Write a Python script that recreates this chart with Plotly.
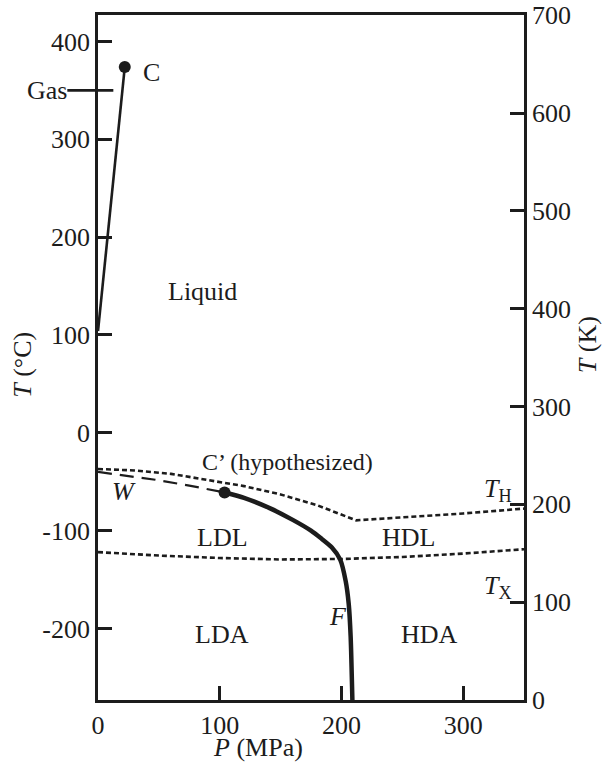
import plotly.graph_objects as go

# ---------------- data ----------------
# Liquid–gas coexistence line, ends at critical point C
lg_P = [0, 22]
lg_T = [104, 374]
C_P, C_T = 22, 374

# Hypothetical liquid–liquid line (solid) from C' to F at 0 K
ll_P = [104, 120, 141, 160, 175, 183, 192, 199, 203.5, 206, 207.6, 209]
ll_T = [-61, -66.5, -77, -89, -100, -107.6, -117, -129.6, -151.6, -175, -209, -273.15]
Cp_P, Cp_T = 104, -61

# Widom line W (dashed)
w_P = [0, 47, 75, 104]
w_T = [-40, -48, -54, -61]

# Homogeneous nucleation temperature T_H (dotted)
th_P = [0, 30, 60, 90, 120, 150, 180, 212, 250, 300, 350]
th_T = [-37, -38.5, -42, -48, -54.5, -63, -74, -89.5, -86.5, -82.5, -77.5]

# Crystallization temperature T_X (dotted)
tx_P = [0, 50, 100, 150, 200, 250, 300, 350]
tx_T = [-122, -125.5, -128, -129.5, -129, -127, -123.5, -119]

GAS_T = 350

x_ticks = [0, 100, 200, 300]
yC_ticks = [-200, -100, 0, 100, 200, 300, 400]
yK_ticks = [0, 100, 200, 300, 400, 500, 600, 700]

P_RANGE = [0, 350]
K_RANGE = [0, 700.2]
C_RANGE = [K_RANGE[0] - 273.15, K_RANGE[1] - 273.15]

# region labels: (text, P, T)
labels = [
    ("Liquid", 86, 144),
    ("LDL", 102, -107),
    ("HDL", 255, -107),
    ("LDA", 102, -206),
    ("HDA", 272, -206),
]
italic_labels = [
    ("<i>W</i>", 21, -60),
    ("<i>F</i>", 197, -188),
    ("<i>T</i><sub>H</sub>", 329, -58),
    ("<i>T</i><sub>X</sub>", 329, -158),
]

FONT = "Liberation Serif"
INK = "#1c1c1c"
FS = 26

fig = go.Figure()

fig.add_trace(go.Scatter(x=th_P, y=th_T, mode="lines",
                         line=dict(color=INK, width=2.6, dash="5px,3px"),
                         showlegend=False, hoverinfo="skip"))
fig.add_trace(go.Scatter(x=tx_P, y=tx_T, mode="lines",
                         line=dict(color=INK, width=2.6, dash="5px,3px"),
                         showlegend=False, hoverinfo="skip"))
fig.add_trace(go.Scatter(x=w_P, y=w_T, mode="lines",
                         line=dict(color=INK, width=2.2, dash="14px,8px"),
                         showlegend=False, hoverinfo="skip"))
fig.add_trace(go.Scatter(x=ll_P, y=ll_T, mode="lines",
                         line=dict(color=INK, width=4.5, shape="spline", smoothing=0.6),
                         showlegend=False, hoverinfo="skip"))
fig.add_trace(go.Scatter(x=lg_P, y=lg_T, mode="lines",
                         line=dict(color=INK, width=2.6),
                         showlegend=False, hoverinfo="skip"))
fig.add_trace(go.Scatter(x=[C_P, Cp_P], y=[C_T, Cp_T], mode="markers",
                         marker=dict(color=INK, size=12),
                         showlegend=False, hoverinfo="skip"))
# empty trace so the Kelvin axis is drawn
fig.add_trace(go.Scatter(x=[None], y=[None], yaxis="y2", showlegend=False, hoverinfo="skip"))

for txt, p, t in labels + italic_labels:
    fig.add_annotation(x=p, y=t, text=txt, showarrow=False,
                       font=dict(family=FONT, size=FS, color=INK))
fig.add_annotation(x=156, y=-30, text="C\u2019 (hypothesized)", showarrow=False,
                   font=dict(family=FONT, size=24, color=INK))
fig.add_annotation(x=C_P + 22, y=C_T - 6, text="C", showarrow=False,
                   font=dict(family=FONT, size=FS, color=INK))

# Gas marker on the left axis
fig.add_shape(type="line", xref="paper", yref="y", x0=-0.072, x1=0.036,
              y0=GAS_T, y1=GAS_T, line=dict(color=INK, width=2.6))
fig.add_annotation(xref="paper", yref="y", x=-0.068, y=GAS_T, text="Gas",
                   xanchor="right", showarrow=False,
                   font=dict(family=FONT, size=FS, color=INK))

# axis titles
fig.add_annotation(xref="paper", yref="paper", x=(258 - 98) / 425, y=-(747 - 700) / 685,
                   text="<i>P</i> (MPa)", showarrow=False, xanchor="center",
                   yanchor="middle", font=dict(family=FONT, size=FS, color=INK))
fig.add_annotation(xref="paper", yref="paper", x=-(98 - 22) / 425, y=(700 - 365) / 685,
                   text="<i>T</i> (\u00b0C)", showarrow=False, textangle=-90,
                   xanchor="center", yanchor="middle",
                   font=dict(family=FONT, size=FS, color=INK))
fig.add_annotation(xref="paper", yref="paper", x=1 + (587 - 524) / 425, y=(700 - 345) / 685,
                   text="<i>T</i> (K)", showarrow=False, textangle=-90,
                   xanchor="center", yanchor="middle",
                   font=dict(family=FONT, size=FS, color=INK))

axis_common = dict(showgrid=False, zeroline=False, showline=True, linecolor=INK,
                   linewidth=2.8, ticks="inside", ticklen=14, tickwidth=2.6,
                   tickcolor=INK, automargin=False, ticklabeloverflow="allow",
                   tickfont=dict(family=FONT, size=FS, color=INK))

fig.update_layout(
    width=602, height=763,
    margin=dict(l=98, r=78, t=15, b=63, autoexpand=False),
    paper_bgcolor="white", plot_bgcolor="white",
    xaxis=dict(range=P_RANGE, tickvals=x_ticks, ticktext=[str(v) for v in x_ticks],
               mirror=True, **axis_common),
    yaxis=dict(range=C_RANGE, tickvals=yC_ticks, ticktext=[str(v) for v in yC_ticks],
               **axis_common),
    yaxis2=dict(range=K_RANGE, tickvals=yK_ticks, ticktext=[str(v) for v in yK_ticks],
                overlaying="y", side="right", **axis_common),
)

# remove the page's default 8px body margin so the figure fills the window
fig.write_html("out.html", config={"displayModeBar": False},
               post_script="document.body.style.margin='0';document.body.style.overflow='hidden';")
